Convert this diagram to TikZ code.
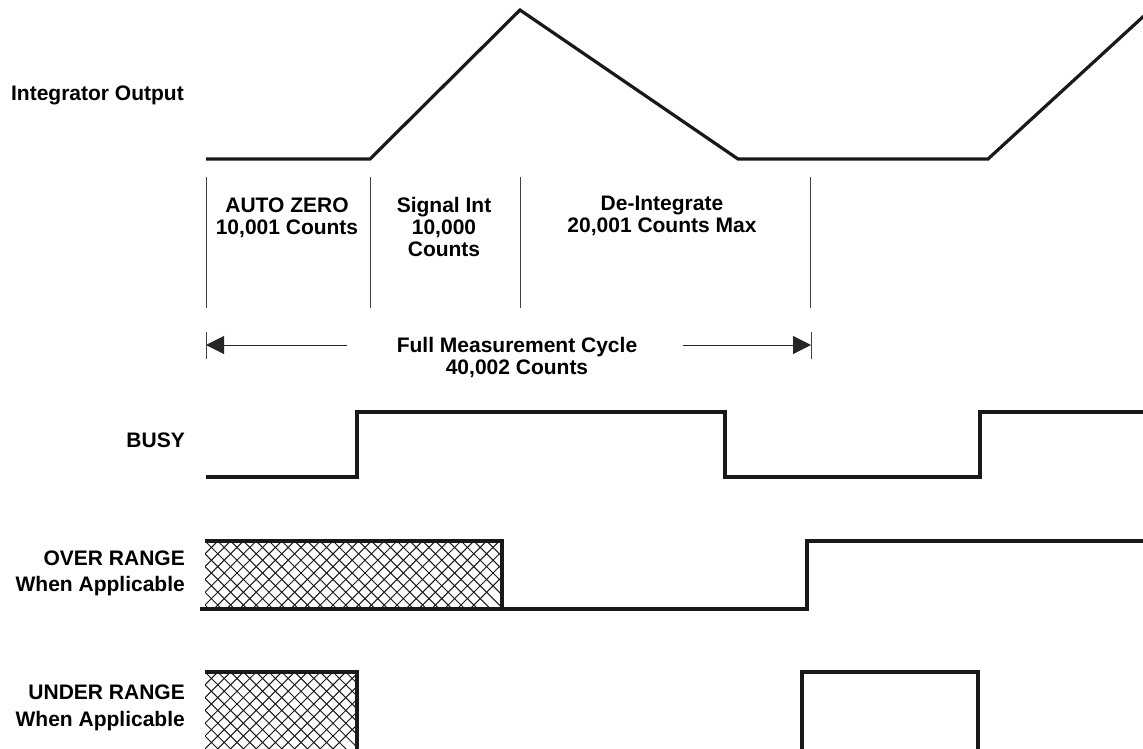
\documentclass[tikz,border=0pt]{standalone}
\usepackage{fontspec}
\setmainfont{Liberation Sans}
\usetikzlibrary{arrows.meta}
\begin{document}
\begin{tikzpicture}[x=1pt,y=-1pt,
  lbl/.style={inner sep=0pt,font=\bfseries\fontsize{21}{22}\selectfont,align=center},
  sidelbl/.style={inner sep=0pt,font=\bfseries\fontsize{21}{26}\selectfont,align=right,anchor=east},
  sig/.style={line width=3.2pt,line join=miter,black!90},
  phase/.style={line width=1pt,black!75},
  hatchline/.style={line width=1pt,black!90},
  dimarrow/.style={line width=1pt,black!85,-{Triangle[length=18pt,width=18pt]}}]
\useasboundingbox (0,0) rectangle (1143,748);

% ---------- labels on the left ----------
\node[inner sep=0pt,font=\bfseries\fontsize{21}{22}\selectfont,anchor=base east] (lint) at (184,100) {Integrator Output};
\node[inner sep=0pt,font=\bfseries\fontsize{21}{22}\selectfont,anchor=base east] (lbusy) at (185,447) {BUSY};
\node[sidelbl] (lover) at (185,573.8) {OVER RANGE\\When Applicable};
\node[sidelbl,font=\bfseries\fontsize{21}{27}\selectfont] (lunder) at (185,708) {UNDER RANGE\\When Applicable};

% ---------- integrator output ----------
\draw[sig] (206,159) -- (370,159) -- (520,10) -- (738,159) -- (988,159) -- (1146,14);

% ---------- phase lines ----------
\coordinate (p0t) at (206,177); \coordinate (p0b) at (206,308);
\coordinate (p1t) at (370,177); \coordinate (p1b) at (370,308);
\coordinate (p2t) at (520,177); \coordinate (p2b) at (520,308);
\coordinate (p3t) at (810,177); \coordinate (p3b) at (810,308);
\draw[phase] (p0t) -- (p0b);
\draw[phase] (p1t) -- (p1b);
\draw[phase] (p2t) -- (p2b);
\draw[phase] (p3t) -- (p3b);

\node[lbl] (az) at (287,217.5) {AUTO ZERO\\10,001 Counts};
\node[lbl] (si) at (444,226.9) {Signal Int\\10,000\\Counts};
\node[lbl] (di) at (662,215.4) {De-Integrate\\20,001 Counts Max};

% ---------- full measurement cycle ----------
\coordinate (tl1) at (206,332); \coordinate (tl2) at (206,359);
\coordinate (tr1) at (811,332); \coordinate (tr2) at (811,359);
\draw[phase] (tl1) -- (tl2);
\draw[phase] (tr1) -- (tr2);
\node[lbl] (fmc) at (517,357.4) {Full Measurement Cycle\\40,002 Counts};
\coordinate (al) at (347,345); \coordinate (alend) at (206,345);
\coordinate (ar) at (683,345); \coordinate (arend) at (811,345);
\draw[dimarrow] (al) -- (alend);
\draw[dimarrow] (ar) -- (arend);

% ---------- BUSY ----------
\draw[sig] (206,477) -- (357,477) -- (357,412) -- (725,412) -- (725,477) -- (980,477) -- (980,412) -- (1146,412);

% ---------- OVER RANGE ----------
\begin{scope}
  \clip (205,541) rectangle (502,609);
  \foreach \i in {-8,...,26} {
    \draw[hatchline] (205+\i*12.8,541) -- ++(70,70);
    \draw[hatchline] (205+\i*12.8,541) -- ++(-70,70);
  }
\end{scope}
\draw[sig] (205,541) -- (502,541) -- (502,609);
\draw[sig] (200,609) -- (807,609) -- (807,541) -- (1146,541);

% ---------- UNDER RANGE ----------
\begin{scope}
  \clip (205,672) rectangle (357,750);
  \foreach \i in {-8,...,16} {
    \draw[hatchline] (205+\i*12.8,672) -- ++(80,80);
    \draw[hatchline] (205+\i*12.8,672) -- ++(-80,80);
  }
\end{scope}
\draw[sig] (205,672) -- (357,672) -- (357,752);
\draw[sig] (802,752) -- (802,672) -- (978,672) -- (978,752);
\end{tikzpicture}
\end{document}
